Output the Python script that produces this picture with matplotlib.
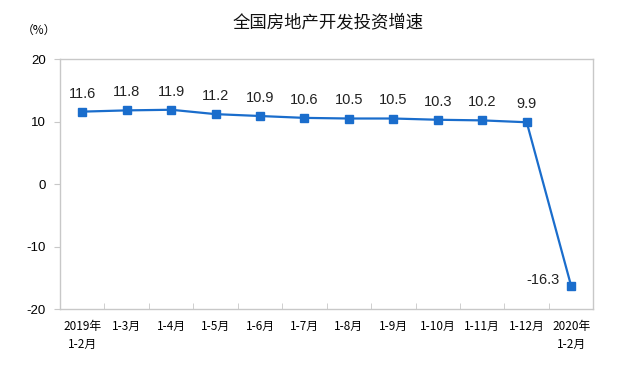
import numpy as np
import matplotlib
matplotlib.use('Agg')
import matplotlib.pyplot as plt

plt.rcParams['font.family'] = ['Liberation Sans', 'Noto Sans CJK SC', 'DejaVu Sans']

months = ['2019年\n1-2月', '1-3月', '1-4月', '1-5月', '1-6月', '1-7月', '1-8月',
          '1-9月', '1-10月', '1-11月', '1-12月', '2020年\n1-2月']
growth = [11.6, 11.8, 11.9, 11.2, 10.9, 10.6, 10.5, 10.5, 10.3, 10.2, 9.9, -16.3]
yticks = [-20, -10, 0, 10, 20]

blue = '#1a6dcc'
frame = '#c8c8c8'

fig = plt.figure(figsize=(6.29, 3.65), dpi=100)
ax = fig.add_axes([0.0954, 0.153, 0.848, 0.685])

x = np.arange(len(months))
ax.plot(x, growth, color=blue, lw=1.6, marker='s', ms=5.5, mfc=blue, mec=blue)

for xi, v in zip(x, growth):
    if v < 0:
        ax.annotate(f'{v:.1f}', (xi, v), xytext=(-8, 4), textcoords='offset points',
                    ha='right', va='center', fontsize=10.5, color='#222222')
    else:
        ax.annotate(f'{v:.1f}', (xi, v), xytext=(0, 8), textcoords='offset points',
                    ha='center', va='bottom', fontsize=10.5, color='#222222')

ax.set_xlim(-0.5, len(months) - 0.5)
ax.set_ylim(-20, 20)
ax.set_yticks(yticks)
ax.set_yticklabels([str(t) for t in yticks], fontsize=9.5)

ax.set_xticks(x)
ax.set_xticklabels(months, fontsize=8.5, family=['Noto Sans CJK SC', 'DejaVu Sans'],
                   linespacing=1.5)
ax.set_xticks(np.arange(0.5, len(months) - 0.5), minor=True)
ax.tick_params(axis='x', which='major', length=0, pad=8)
ax.tick_params(axis='x', which='minor', length=4, direction='in', color=frame)
ax.tick_params(axis='y', length=4, direction='out', color=frame, pad=6)

for s in ax.spines.values():
    s.set_color(frame)
    s.set_linewidth(1.0)

fig.text(0.521, 0.94, '全国房地产开发投资增速', ha='center', va='center', fontsize=12.5,
         family=['Noto Sans CJK SC', 'DejaVu Sans'], color='#111111')
fig.text(0.062, 0.918, '（%）', ha='center', va='center', fontsize=8.5,
         family=['Noto Sans CJK SC', 'DejaVu Sans'])

fig.savefig('out.png', dpi=100)
